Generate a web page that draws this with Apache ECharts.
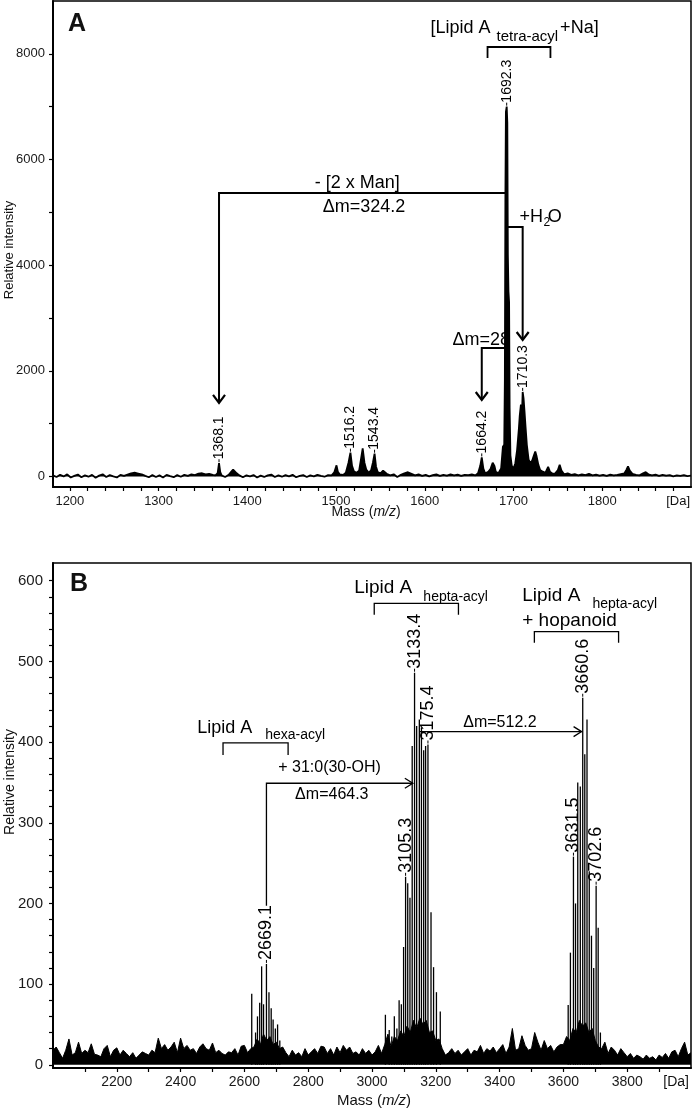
<!DOCTYPE html>
<html><head><meta charset="utf-8">
<script src="https://cdn.jsdelivr.net/npm/echarts@6/dist/echarts.min.js"></script>
<style>html,body{margin:0;padding:0;background:#fff}#c{width:693px;height:1109px}</style>
</head><body><div id="c"></div>
<script>
// ---------- DATA ----------
// Panel A spectrum: [m/z, intensity]
const spectrumA = [
[1181,20],[1185,-10],[1189,30],[1193,0],[1197,40],[1201,-20],[1205,10],[1209,35],[1213,-15],[1217,20],[1221,-5],[1225,30],[1229,-25],[1233,15],[1237,40],[1241,-10],[1245,25],[1249,0],[1253,-20],[1257,30],[1261,10],[1265,35],[1269,60],[1273,70],[1277,55],[1281,40],[1285,10],[1289,-15],[1293,25],[1297,-10],[1301,20],[1305,-20],[1309,30],[1313,5],[1317,-15],[1321,25],[1325,-5],[1329,30],[1333,10],[1337,40],[1341,25],[1345,55],[1349,60],[1353,40],[1357,50],[1361,30],[1364,20],[1366.5,60],[1368.1,250],[1369.5,80],[1371,20],[1375,-10],[1379,30],[1382,90],[1384,130],[1386,110],[1388,60],[1391,20],[1395,-15],[1399,20],[1403,0],[1407,25],[1411,-20],[1415,15],[1419,-10],[1423,20],[1427,35],[1431,-10],[1435,20],[1439,-5],[1443,25],[1447,0],[1451,30],[1455,-15],[1459,10],[1463,25],[1467,-10],[1471,20],[1475,0],[1479,30],[1483,10],[1487,-5],[1491,25],[1495,20],[1498,80],[1500.5,210],[1502,90],[1504,40],[1508,30],[1511,70],[1514,260],[1516.2,450],[1518,200],[1520,100],[1523,70],[1526,110],[1528,320],[1530,530],[1532,260],[1534,130],[1537,70],[1539.5,120],[1541.5,260],[1543.4,430],[1545,190],[1547,80],[1550,60],[1553,110],[1555,130],[1557,50],[1561,20],[1565,40],[1569,-10],[1573,30],[1577,60],[1581,80],[1585,50],[1589,20],[1593,40],[1597,10],[1601,30],[1605,0],[1609,25],[1613,40],[1617,10],[1621,30],[1625,15],[1629,40],[1633,20],[1637,35],[1641,10],[1645,30],[1649,25],[1653,40],[1657,20],[1660,60],[1662.5,200],[1664.2,360],[1666,150],[1668,60],[1671,80],[1674,140],[1676.5,260],[1678.5,200],[1680,90],[1683,60],[1686,150],[1688,560],[1689.5,600],[1690.2,1800],[1690.8,5200],[1691.4,6900],[1692.3,7000],[1693,6700],[1693.6,4200],[1694.3,3500],[1695,3300],[1695.6,1300],[1696.5,400],[1698,200],[1700,150],[1702,250],[1704,500],[1706,900],[1707,1150],[1708.3,1360],[1709.2,1000],[1710.3,1600],[1711.3,1480],[1712.3,1250],[1713.5,950],[1715,600],[1717,320],[1719,250],[1721,300],[1723,400],[1724.5,470],[1726,380],[1728,220],[1730,120],[1733,90],[1736,70],[1739,180],[1741,90],[1744,50],[1747,60],[1750,120],[1752,220],[1754,110],[1757,40],[1761,60],[1765,30],[1769,45],[1773,20],[1777,40],[1781,25],[1785,50],[1789,20],[1793,35],[1797,15],[1801,30],[1805,10],[1809,35],[1813,20],[1817,30],[1821,45],[1825,60],[1827,120],[1829,190],[1831,110],[1834,50],[1838,30],[1842,20],[1846,60],[1849,80],[1852,40],[1856,20],[1860,35],[1864,10],[1868,30],[1872,15],[1876,25],[1880,0],[1884,20],[1888,10],[1892,25],[1896,5],[1900,15]
];
const peakLabelsA = [1368.1, 1516.2, 1543.4, 1664.2, 1692.3, 1710.3];

// Panel B baseline noise: [m/z, intensity]
const noiseB = [
[2000,18],[2010,22],[2020,15],[2030,8],[2040,18],[2050,32],[2060,12],[2070,15],[2080,28],[2090,14],[2100,18],[2110,15],[2120,26],[2130,13],[2140,12],[2150,10],[2160,20],[2170,24],[2180,10],[2190,18],[2200,21],[2210,12],[2220,18],[2230,14],[2240,10],[2250,15],[2260,8],[2270,12],[2280,16],[2290,14],[2300,12],[2310,18],[2320,15],[2330,33],[2340,20],[2350,25],[2360,18],[2370,22],[2380,28],[2390,15],[2400,33],[2410,20],[2420,24],[2430,18],[2440,20],[2450,14],[2460,22],[2470,26],[2480,20],[2490,18],[2500,27],[2510,15],[2520,18],[2530,14],[2540,12],[2550,16],[2560,15],[2570,20],[2580,12],[2590,23],[2600,24],[2610,15],[2620,20],[2630,22],[2640,32],[2650,25],[2660,38],[2670,30],[2680,35],[2690,25],[2700,28],[2710,20],[2720,22],[2730,15],[2740,10],[2750,18],[2760,12],[2770,15],[2780,10],[2790,20],[2800,12],[2810,16],[2820,20],[2830,14],[2840,23],[2850,22],[2860,14],[2870,20],[2880,12],[2890,22],[2900,15],[2910,24],[2920,18],[2930,22],[2940,14],[2950,16],[2960,12],[2970,20],[2980,14],[2990,18],[3000,12],[3010,16],[3020,24],[3030,14],[3040,25],[3050,38],[3060,22],[3070,35],[3080,30],[3090,42],[3100,35],[3110,48],[3120,40],[3130,55],[3140,45],[3150,58],[3160,50],[3170,55],[3180,40],[3190,42],[3200,30],[3210,32],[3220,20],[3230,12],[3240,15],[3250,20],[3260,14],[3270,18],[3280,12],[3290,16],[3300,20],[3310,12],[3320,18],[3330,16],[3340,24],[3350,14],[3360,20],[3370,17],[3380,22],[3390,15],[3400,20],[3410,25],[3420,14],[3430,22],[3440,45],[3450,18],[3460,20],[3470,36],[3480,24],[3490,18],[3500,20],[3510,40],[3520,28],[3530,18],[3540,30],[3550,20],[3560,24],[3570,16],[3580,22],[3590,25],[3600,25],[3610,35],[3620,30],[3630,45],[3640,40],[3650,55],[3660,48],[3670,52],[3680,40],[3690,45],[3700,30],[3710,22],[3720,20],[3730,28],[3740,14],[3750,22],[3760,18],[3770,12],[3780,20],[3790,15],[3800,10],[3810,14],[3820,8],[3830,12],[3840,10],[3850,7],[3860,12],[3870,8],[3880,10],[3890,6],[3900,12],[3910,9],[3920,14],[3930,8],[3940,16],[3950,18],[3960,10],[3970,20],[3980,28],[3990,12],[4000,15]
];
// Panel B peak sticks: [m/z, intensity]
const peaksB = [
[2623,88],[2635,40],[2641,60],[2648,77],[2654,122],[2660,75],[2669.1,125],[2677,90],[2684,70],[2690,56],[2697,45],[2704,50],[2711,30],
[3042,62],[3054,43],[3062,35],[3070,60],[3078,45],[3085,80],[3092,75],[3099,146],[3105.3,233],[3112,225],[3119,207],[3126,395],[3133.4,486],[3140,420],[3148.4,428],[3155,418],[3162,390],[3168,395],[3175.4,397],[3185,189],[3193,121],[3202,90],[3214,66],
[3615,74],[3622,139],[3631.5,258],[3638,200],[3645,350],[3653,345],[3660.6,455],[3667,385],[3674,428],[3681,240],[3688,160],[3695,120],[3702.6,222],[3709,170],[3716,40]
];
const peakLabelsB = [2669.1, 3105.3, 3133.4, 3175.4, 3631.5, 3660.6, 3702.6];

// Axis ticks / labels
const xLabelsA = [1200,1300,1400,1500,1600,1700,1800];
const xTicksA = [1200,1220,1240,1260,1280,1300,1320,1340,1360,1380,1400,1420,1440,1460,1480,1500,1520,1540,1560,1580,1600,1620,1640,1660,1680,1700,1720,1740,1760,1780,1800,1820,1840,1860,1880];
const yLabelsA = [0,2000,4000,6000,8000];
const yTicksA = [0,1000,2000,3000,4000,5000,6000,7000,8000];
const xLabelsB = [2200,2400,2600,2800,3000,3200,3400,3600,3800];
const xTicksB = [2100,2200,2300,2400,2500,2600,2700,2800,2900,3000,3100,3200,3300,3400,3500,3600,3700,3800,3900];
const yLabelsB = [0,100,200,300,400,500,600];
const yTicksB = [0,20,40,60,80,100,120,140,160,180,200,220,240,260,280,300,320,340,360,380,400,420,440,460,480,500,520,540,560,580,600];

// ---------- CHART ----------
const FF = '"Liberation Sans", Arial, Helvetica, sans-serif';
const chart = echarts.init(document.getElementById('c'), null, {renderer:'canvas', width:693, height:1109});

function intensityAt(arr, m){ const p = arr.find(d => d[0] === m); return p ? p[1] : 0; }

function labelRenderer(labels, size, gap){
  return function(params, api){
    const p = api.coord([api.value(0), api.value(1)]);
    const t = labels[params.dataIndex].toFixed(1);
    return {type:'group', children:[
      {type:'line', shape:{x1:p[0], y1:p[1]-1, x2:p[0], y2:p[1]-gap}, style:{stroke:'#000', lineWidth:1}},
      {type:'text', x:p[0], y:p[1]-gap, rotation:Math.PI/2,
       style:{text:t, font:size+'px '+FF, fill:'#000', align:'left', verticalAlign:'middle'}}
    ]};
  };
}

function ax(g, min, max, labels, ticks, fs, margin){
  return {gridIndex:g, type:'value', min:min, max:max,
    axisLine:{onZero:false, lineStyle:{color:'#000', width:2}},
    axisTick:{show:true, customValues:ticks, length:4, lineStyle:{color:'#000', width:1.2}},
    axisLabel:{customValues:labels, fontSize:fs, fontFamily:FF, color:'#1a1a1a', margin:margin,
      formatter:function(v){ return String(v); }},
    splitLine:{show:false}};
}

const option = {
  animation:false,
  backgroundColor:'#fff',
  grid:[
    {left:53, top:1, width:638, height:486, show:true, borderColor:'#000', borderWidth:1.5},
    {left:53, top:563, width:638, height:505, show:true, borderColor:'#000', borderWidth:1.5}
  ],
  xAxis:[ ax(0, 1181, 1900, xLabelsA, xTicksA, 13, 8), ax(1, 2000, 4000, xLabelsB, xTicksB, 14, 7) ],
  yAxis:[ ax(0, -200, 9000, yLabelsA, yTicksA, 13, 8), ax(1, -4, 622, yLabelsB, yTicksB, 15, 10) ],
  series:[
    {type:'line', xAxisIndex:0, yAxisIndex:0, data:spectrumA, showSymbol:false, symbol:'none',
     lineStyle:{color:'#000', width:1.8}, areaStyle:{color:'#000', opacity:1}, z:3},
    {type:'custom', xAxisIndex:0, yAxisIndex:0, coordinateSystem:'cartesian2d',
     data:peakLabelsA.map(m => [m, intensityAt(spectrumA, m)]),
     renderItem:labelRenderer(peakLabelsA, 14, 4), z:5},
    {type:'line', xAxisIndex:1, yAxisIndex:1, data:noiseB, showSymbol:false, symbol:'none',
     lineStyle:{color:'#000', width:1}, areaStyle:{color:'#000', opacity:1}, z:3},
    {type:'bar', xAxisIndex:1, yAxisIndex:1, data:peaksB, barWidth:1.3,
     itemStyle:{color:'#000'}, z:4},
    {type:'custom', xAxisIndex:1, yAxisIndex:1, coordinateSystem:'cartesian2d',
     data:peakLabelsB.map(m => [m, intensityAt(peaksB, m)]),
     renderItem:labelRenderer(peakLabelsB, 18, 4), z:5}
  ]
};
chart.setOption(option);

// ---------- ANNOTATIONS (data coordinates -> pixels via the chart's scales) ----------
const els = [];
function px(g, m, v){ return chart.convertToPixel({gridIndex:g}, [m, v]); }
function pl(g, pts, w){
  els.push({type:'polyline', z:100, silent:true,
    shape:{points:pts.map(q => px(g, q[0], q[1]))},
    style:{stroke:'#000', lineWidth:w, fill:null, lineJoin:'miter'}});
}
function arrowDown(g, m, v, w, hw, hh){
  const t = px(g, m, v);
  els.push({type:'polyline', z:100, silent:true,
    shape:{points:[[t[0]-hw, t[1]-hh],[t[0], t[1]],[t[0]+hw, t[1]-hh]]},
    style:{stroke:'#000', lineWidth:w, fill:null}});
}
function arrowRight(g, m, v, w, hw, hh){
  const t = px(g, m, v);
  els.push({type:'polyline', z:100, silent:true,
    shape:{points:[[t[0]-hh, t[1]-hw],[t[0], t[1]],[t[0]-hh, t[1]+hw]]},
    style:{stroke:'#000', lineWidth:w, fill:null}});
}
function tx(g, s, m, v, size, align){
  const p = px(g, m, v);
  els.push({type:'text', z:100, silent:true, x:p[0], y:p[1],
    style:{text:s, font:size+'px '+FF, fill:'#000', align:align||'left', verticalAlign:'middle'}});
}
function bracket(g, m1, m2, v, vLeg, w){
  pl(g, [[m1, vLeg],[m1, v],[m2, v],[m2, vLeg]], w);
}

// Panel A
bracket(0, 1670.7, 1741.6, 8129, 7921, 1.8);
tx(0, '[Lipid A', 1606.5, 8479, 18);
tx(0, 'tetra-acyl', 1680.8, 8319, 15);
tx(0, '+Na]', 1752.5, 8479, 18);
pl(0, [[1692.3, 5366],[1368.1, 5366],[1368.1, 1391]], 2);
arrowDown(0, 1368.1, 1391, 2.2, 6, 8);
tx(0, '- [2 x Man]', 1476, 5555, 18);
tx(0, '\u0394m=324.2', 1485, 5100, 18);
pl(0, [[1692.3, 4722],[1710.3, 4722],[1710.3, 2583]], 2);
arrowDown(0, 1710.3, 2583, 2.2, 6, 8);
tx(0, '+H', 1706.7, 4911, 18);
tx(0, '2', 1733.7, 4800, 12);
tx(0, 'O', 1738.6, 4911, 18);
pl(0, [[1692.3, 2432],[1664.2, 2432],[1664.2, 1447]], 2);
arrowDown(0, 1664.2, 1447, 2.2, 6, 8);
tx(0, '\u0394m=28', 1631.3, 2583, 18);

// Panel B
bracket(1, 2533, 2737, 399, 384, 1.3);
tx(1, 'Lipid A', 2452, 418, 18);
tx(1, 'hexa-acyl', 2665, 409, 14);
bracket(1, 3007, 3271, 572, 558, 1.3);
tx(1, 'Lipid A', 2944, 591, 19);
tx(1, 'hepta-acyl', 3161, 580, 14);
bracket(1, 3509, 3773, 537, 523, 1.3);
tx(1, 'Lipid A', 3471, 582, 19);
tx(1, 'hepta-acyl', 3691, 571, 14);
tx(1, '+ hopanoid', 3471, 551, 19);
pl(1, [[2669.1, 197],[2669.1, 349],[3128, 349]], 1.3);
arrowRight(1, 3128, 349, 1.3, 5, 8);
tx(1, '+ 31:0(30-OH)', 2706, 369, 16);
tx(1, '\u0394m=464.3', 2759, 335, 16);
pl(1, [[3148.4, 413],[3657, 413]], 1.3);
arrowRight(1, 3657, 413, 1.3, 5, 8);
tx(1, '\u0394m=512.2', 3286, 424, 16);

// Panel letters, axis titles, units
function ptext(s, x, y, size, opts){
  opts = opts || {};
  els.push({type:'text', z:100, silent:true, x:x, y:y, rotation:opts.rot||0,
    style:{text:s, fontSize:size, fontFamily:FF, fontWeight:opts.bold?'bold':'normal', fill:'#111',
      align:opts.align||'left', verticalAlign:'middle',
      rich:{i:{fontStyle:'italic', fontSize:size, fontFamily:FF, fill:'#111'}}}});
}
ptext('A', 68, 24, 25, {bold:true});
ptext('B', 70, 584, 25, {bold:true});
ptext('Relative intensity', 9, 250, 13, {rot:Math.PI/2, align:'center'});
ptext('Relative intensity', 10, 782, 14, {rot:Math.PI/2, align:'center'});
ptext('Mass ({i|m/z})', 366, 512, 14, {align:'center'});
ptext('Mass ({i|m/z})', 374, 1101, 15, {align:'center'});
ptext('[Da]', 690, 501, 13, {align:'right'});
ptext('[Da]', 689, 1082, 14, {align:'right'});

chart.setOption({graphic:{elements:els}});
</script></body></html>
